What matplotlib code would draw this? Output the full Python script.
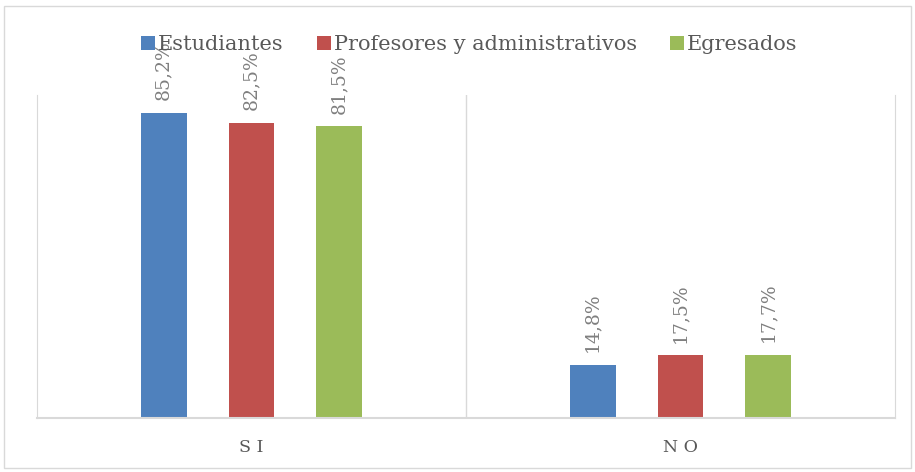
import matplotlib.pyplot as plt
import numpy as np
from matplotlib.patches import Rectangle

categories = ["S I", "N O"]
series = ["Estudiantes", "Profesores y administrativos", "Egresados"]
estudiantes = [85.2, 14.8]
profesores = [82.5, 17.5]
egresados = [81.5, 17.7]
colors = ["#4F81BD", "#C0504D", "#9BBB59"]

plt.rcParams['font.family'] = ['DejaVu Serif']
text_color = "#595959"

fig = plt.figure(figsize=(9.15, 4.72), dpi=100)
ax = fig.add_axes([37 / 915, (472 - 418) / 472, (895 - 37) / 915, (418 - 95) / 472])

x = np.arange(len(categories))
width = 0.107
offsets = [-0.205, 0, 0.205]
for vals, name, col, off in zip([estudiantes, profesores, egresados], series, colors, offsets):
    bars = ax.bar(x + off, vals, width, color=col, label=name)
    for b, v in zip(bars, vals):
        ax.text(b.get_x() + b.get_width() / 2, v + 3.5, f"{v:.1f}%".replace(".", ","),
                rotation=90, ha="center", va="bottom", fontsize=13.5, color="#7F7F7F")

ax.set_xlim(-0.5, 1.5)
ax.set_ylim(0, 90.2)
ax.set_yticks([])
ax.set_xticks(x)
ax.set_xticklabels(categories, fontsize=12.5, color=text_color)
ax.tick_params(axis="x", length=0, pad=15)
ax.axvline(0.5, color="#D9D9D9", lw=1)
ax.spines["top"].set_visible(False)
for s in ["left", "right", "bottom"]:
    ax.spines[s].set_color("#D9D9D9")
ax.spines["bottom"].set_linewidth(1.5)

leg = fig.legend(loc="center", bbox_to_anchor=(0.513, 1 - 45 / 472), ncol=3, frameon=False,
                 fontsize=15, handlelength=0.65, handleheight=0.65, handletextpad=0.15,
                 columnspacing=1.6, labelcolor=text_color)

fig.patches.append(Rectangle((4 / 915, 4 / 472), 907 / 915, 462 / 472, transform=fig.transFigure,
                             fill=False, edgecolor="#D9D9D9", lw=1))

fig.savefig("out.png", dpi=100)
